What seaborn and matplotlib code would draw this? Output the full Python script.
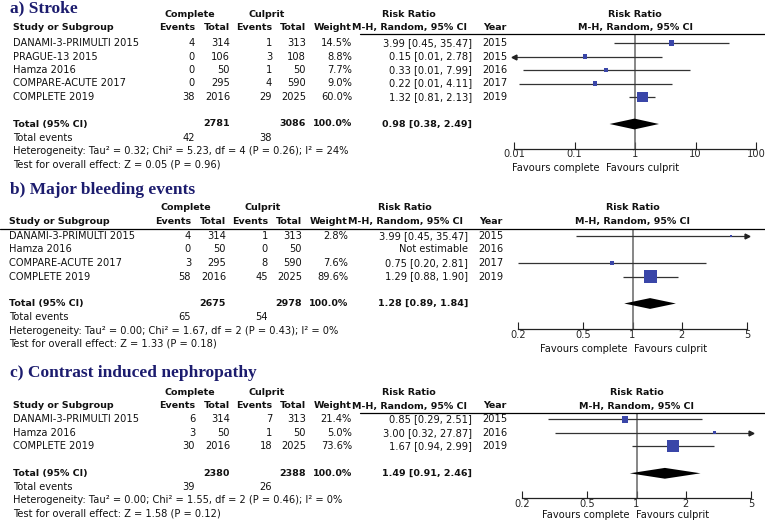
#!/usr/bin/env python3
"""
Forest plots: complete vs culprit-only revascularisation (stroke, bleeding, CIN)
"""
import numpy as np
import matplotlib
matplotlib.use('Agg')
import matplotlib.pyplot as plt
import seaborn as sns

# ---- a) Stroke ----
stroke_studies = ['DANAMI-3-PRIMULTI 2015', 'PRAGUE-13 2015', 'Hamza 2016',
                  'COMPARE-ACUTE 2017', 'COMPLETE 2019']
stroke_ev_comp = [4, 0, 0, 0, 38]
stroke_n_comp = [314, 106, 50, 295, 2016]
stroke_ev_cul = [1, 3, 1, 4, 29]
stroke_n_cul = [313, 108, 50, 590, 2025]
stroke_weight = [14.5, 8.8, 7.7, 9.0, 60.0]
stroke_rr = [3.99, 0.15, 0.33, 0.22, 1.32]
stroke_lo = [0.45, 0.008, 0.014, 0.012, 0.81]
stroke_hi = [35.47, 2.78, 7.99, 4.11, 2.13]
stroke_year = [2015, 2015, 2016, 2017, 2019]
stroke_tot_n = [2781, 3086]
stroke_tot_ev = [42, 38]
stroke_pooled = [0.98, 0.38, 2.49]
stroke_het = 'Heterogeneity: Tau² = 0.32; Chi² = 5.23, df = 4 (P = 0.26); I² = 24%'
stroke_test = 'Test for overall effect: Z = 0.05 (P = 0.96)'

# ---- b) Major bleeding ----
bleed_studies = ['DANAMI-3-PRIMULTI 2015', 'Hamza 2016', 'COMPARE-ACUTE 2017', 'COMPLETE 2019']
bleed_ev_comp = [4, 0, 3, 58]
bleed_n_comp = [314, 50, 295, 2016]
bleed_ev_cul = [1, 0, 8, 45]
bleed_n_cul = [313, 50, 590, 2025]
bleed_weight = [2.8, np.nan, 7.6, 89.6]
bleed_rr = [3.99, np.nan, 0.75, 1.29]
bleed_lo = [0.45, np.nan, 0.20, 0.88]
bleed_hi = [35.47, np.nan, 2.81, 1.90]
bleed_year = [2015, 2016, 2017, 2019]
bleed_tot_n = [2675, 2978]
bleed_tot_ev = [65, 54]
bleed_pooled = [1.28, 0.89, 1.84]
bleed_het = 'Heterogeneity: Tau² = 0.00; Chi² = 1.67, df = 2 (P = 0.43); I² = 0%'
bleed_test = 'Test for overall effect: Z = 1.33 (P = 0.18)'

# ---- c) Contrast induced nephropathy ----
cin_studies = ['DANAMI-3-PRIMULTI 2015', 'Hamza 2016', 'COMPLETE 2019']
cin_ev_comp = [6, 3, 30]
cin_n_comp = [314, 50, 2016]
cin_ev_cul = [7, 1, 18]
cin_n_cul = [313, 50, 2025]
cin_weight = [21.4, 5.0, 73.6]
cin_rr = [0.85, 3.00, 1.67]
cin_lo = [0.29, 0.32, 0.94]
cin_hi = [2.51, 27.87, 2.99]
cin_year = [2015, 2016, 2019]
cin_tot_n = [2380, 2388]
cin_tot_ev = [39, 26]
cin_pooled = [1.49, 0.91, 2.46]
cin_het = 'Heterogeneity: Tau² = 0.00; Chi² = 1.55, df = 2 (P = 0.46); I² = 0%'
cin_test = 'Test for overall effect: Z = 1.58 (P = 0.12)'

ticks_wide = [0.01, 0.1, 1, 10, 100]
ticks_narrow = [0.2, 0.5, 1, 2, 5]

W, H = 765, 526
FS = 7.1
FS_BOLD = 6.8
TITLE_COLOR = '#1c1c6e'
SQUARE_COLOR = '#3a46a8'

sns.set_theme(style='white')
plt.rcParams['font.family'] = 'DejaVu Sans'

fig = plt.figure(figsize=(W / 100, H / 100), dpi=100)


def txt(x, y, s, ha='left', bold=False, **kw):
    size = kw.pop('fontsize', FS_BOLD if bold else FS)
    fig.text(x / W, 1 - y / H, s, ha=ha, va='center', fontsize=size,
             fontweight='bold' if bold else 'normal', color=kw.pop('color', '#111111'), **kw)


def fmt_ci(rr, lo, hi):
    if np.isnan(rr):
        return 'Not estimable'
    return f'{rr:.2f} [{lo:.2f}, {hi:.2f}]'


def draw_panel(title, studies, ev_comp, n_comp, ev_cul, n_cul, weight, rr, lo, hi, year,
               tot_n, tot_ev, pooled, het, test, ticks, lay):
    dx = lay['dx']
    step = 13.5
    n = len(studies)
    x0, x1 = lay['x0'], lay['x1']
    xmin, xmax = ticks[0], ticks[-1]
    # pixel position of the no-effect line, used to centre the forest header
    x_one = x0 + (x1 - x0) * (0 - np.log10(xmin)) / (np.log10(xmax) - np.log10(xmin))

    # title and headers
    txt(10, lay['title_y'], title, bold=True, fontsize=12.5, color=TITLE_COLOR,
        family='Liberation Serif')
    txt(190 + dx, lay['group_y'], 'Complete', ha='center', bold=True)
    txt(267 + dx, lay['group_y'], 'Culprit', ha='center', bold=True)
    txt(409 + dx, lay['group_y'], 'Risk Ratio', ha='center', bold=True)
    txt(x_one, lay['group_y'], 'Risk Ratio', ha='center', bold=True)
    txt(13 + dx, lay['head_y'], 'Study or Subgroup', bold=True)
    for xr, s in [(195, 'Events'), (230, 'Total'), (272, 'Events'), (306, 'Total'), (352, 'Weight')]:
        txt(xr + dx, lay['head_y'], s, ha='right', bold=True)
    txt(409 + dx, lay['head_y'], 'M-H, Random, 95% CI', ha='center', bold=True)
    txt(483 + dx, lay['head_y'], 'Year', bold=True)
    txt(x_one, lay['head_y'], 'M-H, Random, 95% CI', ha='center', bold=True)
    fig.add_artist(plt.Line2D([lay['line_x0'] / W, 1.0], [1 - lay['line_y'] / H] * 2,
                              transform=fig.transFigure, color='black', lw=0.9))

    # study rows
    for i in range(n):
        y = lay['row0'] + i * step
        txt(13 + dx, y, studies[i])
        txt(195 + dx, y, str(ev_comp[i]), ha='right')
        txt(230 + dx, y, str(n_comp[i]), ha='right')
        txt(272 + dx, y, str(ev_cul[i]), ha='right')
        txt(306 + dx, y, str(n_cul[i]), ha='right')
        if not np.isnan(weight[i]):
            txt(352 + dx, y, f'{weight[i]:.1f}%', ha='right')
        txt(472 + dx, y, fmt_ci(rr[i], lo[i], hi[i]), ha='right')
        txt(482 + dx, y, str(year[i]))

    # totals
    yt = lay['row0'] + (n + 1) * step
    txt(13 + dx, yt, 'Total (95% CI)', bold=True)
    txt(230 + dx, yt, str(tot_n[0]), ha='right', bold=True)
    txt(306 + dx, yt, str(tot_n[1]), ha='right', bold=True)
    txt(352 + dx, yt, '100.0%', ha='right', bold=True)
    txt(472 + dx, yt, fmt_ci(*pooled), ha='right', bold=True)
    txt(13 + dx, yt + 13.7, 'Total events')
    txt(195 + dx, yt + 13.7, str(tot_ev[0]), ha='right')
    txt(272 + dx, yt + 13.7, str(tot_ev[1]), ha='right')
    txt(13 + dx, yt + 27, het)
    txt(13 + dx, yt + 40.5, test)

    # forest axes
    top, bot = lay['line_y'], lay['axis_y']
    ax = fig.add_axes([x0 / W, 1 - bot / H, (x1 - x0) / W, (bot - top) / H])
    ax.set_xscale('log')
    ax.set_xlim(xmin, xmax)
    ax.set_ylim((bot - lay['row0']) / step, (top - lay['row0']) / step)
    ax.patch.set_alpha(0)

    rows = np.arange(n)
    for i in range(n):
        if np.isnan(rr[i]):
            continue
        a, b = max(lo[i], xmin), min(hi[i], xmax)
        ax.hlines(rows[i], a, b, color='#333333', lw=0.9, zorder=2)
        if hi[i] > xmax:
            ax.plot([xmax], [rows[i]], marker='>', ms=3.5, color='#222222', clip_on=False, zorder=3)
        if lo[i] < xmin:
            ax.plot([xmin], [rows[i]], marker='<', ms=3.5, color='#222222', clip_on=False, zorder=3)
    sns.scatterplot(x=rr, y=rows, size=weight, sizes=(0, 100), size_norm=(0, 100),
                    marker='s', color=SQUARE_COLOR, linewidth=0, legend=False, ax=ax, zorder=4)

    est, plo, phi = pooled
    ax.fill([plo, est, phi, est], [n + 1, n + 1 - 0.4, n + 1, n + 1 + 0.4],
            color='black', lw=0, zorder=4)
    ax.axvline(1, color='#666666', lw=1.1, zorder=1)

    sns.despine(ax=ax, left=True)
    ax.spines['bottom'].set_bounds(xmin, xmax)
    ax.spines['bottom'].set_color('#222222')
    ax.spines['bottom'].set_linewidth(0.9)
    ax.set_yticks([])
    ax.set_xticks(ticks)
    ax.set_xticklabels([f'{t:g}' for t in ticks])
    ax.minorticks_off()
    ax.tick_params(axis='x', direction='in', length=5, width=0.8, color='#222222',
                   labelsize=FS, pad=0.5, bottom=True)
    ax.set_xlabel('')
    ax.set_ylabel('')

    txt(lay['split'] - 3, lay['fav_y'], 'Favours complete', ha='right')
    txt(lay['split'] + 3, lay['fav_y'], 'Favours culprit', ha='left')


draw_panel('a) Stroke', stroke_studies, stroke_ev_comp, stroke_n_comp, stroke_ev_cul,
           stroke_n_cul, stroke_weight, stroke_rr, stroke_lo, stroke_hi, stroke_year,
           stroke_tot_n, stroke_tot_ev, stroke_pooled, stroke_het, stroke_test, ticks_wide,
           dict(dx=0, title_y=8, group_y=14.5, head_y=27.3, line_y=33.5, line_x0=360,
                row0=43, axis_y=148.5, x0=514, x1=756, split=603, fav_y=168))

draw_panel('b) Major bleeding events', bleed_studies, bleed_ev_comp, bleed_n_comp, bleed_ev_cul,
           bleed_n_cul, bleed_weight, bleed_rr, bleed_lo, bleed_hi, bleed_year,
           bleed_tot_n, bleed_tot_ev, bleed_pooled, bleed_het, bleed_test, ticks_narrow,
           dict(dx=-4, title_y=190, group_y=207.7, head_y=221.7, line_y=228.5, line_x0=0,
                row0=236, axis_y=329.3, x0=518, x1=747, split=631, fav_y=348.5))

draw_panel('c) Contrast induced nephropathy', cin_studies, cin_ev_comp, cin_n_comp, cin_ev_cul,
           cin_n_cul, cin_weight, cin_rr, cin_lo, cin_hi, cin_year,
           cin_tot_n, cin_tot_ev, cin_pooled, cin_het, cin_test, ticks_narrow,
           dict(dx=0, title_y=372.7, group_y=392.7, head_y=406, line_y=412.5, line_x0=360,
                row0=419.3, axis_y=498.3, x0=522, x1=751, split=633, fav_y=515))

fig.savefig('out.png', dpi=100)
plt.close(fig)
